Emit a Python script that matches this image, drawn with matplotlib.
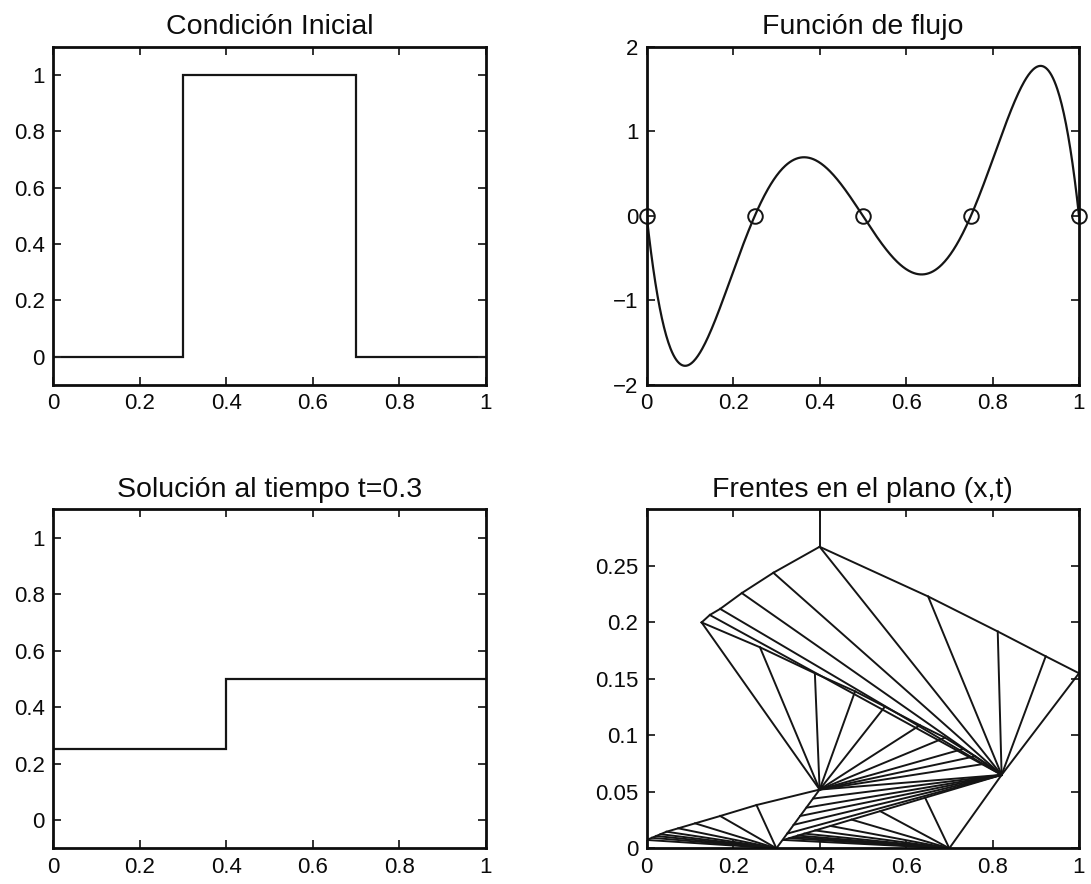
import numpy as np
import matplotlib
matplotlib.use("Agg")
import matplotlib.pyplot as plt
from matplotlib.ticker import FuncFormatter

plt.rcParams['font.family'] = ['Liberation Sans', 'DejaVu Sans']

# Initial condition (piecewise constant)
ic_edges = [0.0, 0.3, 0.7, 1.0]
ic_values = [0.0, 1.0, 0.0]

# Flux function, given by its zeros and a scale factor
flux_zeros = [0.0, 0.25, 0.5, 0.75, 1.0]
flux_scale = -500.0

# Solution at t = 0.3
sol_edges = [0.0, 0.4, 1.0]
sol_values = [0.25, 0.5]

# Fronts in the (x,t) plane
origin_left = (0.3, 0.0)
origin_right = (0.7, 0.0)
meet_low = (0.4, 0.052)
meet_high = (0.821, 0.065)

shock_left = [(0.0, 0.0074), (0.012, 0.0093), (0.022, 0.0109), (0.032, 0.0125),
              (0.046, 0.0147), (0.073, 0.0177), (0.112, 0.0221), (0.170, 0.0286),
              (0.254, 0.0383), (0.4, 0.052)]
shock_mid = [(0.316, 0.0074), (0.33, 0.0090), (0.34, 0.0101), (0.35, 0.0113),
             (0.365, 0.0130), (0.39, 0.0158), (0.425, 0.0198), (0.474, 0.0254),
             (0.540, 0.0329), (0.644, 0.0448), (0.821, 0.065)]
shock_rise_left = [(0.3, 0.0), (0.4, 0.052)]
shock_rise_right = [(0.7, 0.0), (0.821, 0.065)]
shock_long = [(0.127, 0.2), (0.262, 0.178), (0.389, 0.155), (0.482, 0.139),
              (0.551, 0.1254), (0.632, 0.109), (0.69, 0.098), (0.732, 0.088),
              (0.76, 0.0815), (0.785, 0.075), (0.821, 0.065)]
shock_upper_left = [(0.127, 0.2), (0.146, 0.2066), (0.17, 0.212), (0.22, 0.226),
                    (0.293, 0.244), (0.4, 0.267)]
shock_upper_right = [(0.4, 0.267), (0.651, 0.223), (0.812, 0.192), (0.923, 0.170),
                     (1.0, 0.155)]
shock_top = [(0.4, 0.267), (0.4, 0.3)]

feeders_mid = [(0.385, 0.044), (0.37, 0.036), (0.355, 0.0286), (0.34, 0.0208),
               (0.325, 0.013)]

LINE = '#151515'


def fmt(v, _pos=None):
    s = f"{v:g}"
    return s.replace('-', '\u2212')


def style(ax, xticks, yticks, xlim, ylim, title):
    ax.set_xlim(*xlim)
    ax.set_ylim(*ylim)
    ax.set_xticks(xticks)
    ax.set_yticks(yticks)
    ax.xaxis.set_major_formatter(FuncFormatter(fmt))
    ax.yaxis.set_major_formatter(FuncFormatter(fmt))
    ax.tick_params(direction='in', length=5.5, width=1.3, labelsize=16,
                   top=True, right=True, color='#222222', labelcolor='#0a0a0a')
    ax.tick_params(axis='x', pad=6)
    ax.tick_params(axis='y', pad=6)
    for sp in ax.spines.values():
        sp.set_linewidth(2.0)
        sp.set_color('#0d0d0d')
    ax.set_title(title, fontsize=20.5, pad=9, color='#0d0d0d')


fig = plt.figure(figsize=(10.91, 8.84), dpi=100)
W, H = 1091.0, 884.0
colx = [53.3, 646.7]
aw = 432.3
rows = [(46.7, 385.0), (509.5, 848.3)]


def make_ax(c, r):
    top, bot = rows[r]
    return fig.add_axes([colx[c] / W, 1 - bot / H, aw / W, (bot - top) / H])


# Initial condition
ax1 = make_ax(0, 0)
ax1.stairs(ic_values, ic_edges, baseline=None, color=LINE, lw=1.6)
style(ax1, np.arange(0, 1.01, 0.2), np.arange(0, 1.01, 0.2), (0, 1), (-0.1, 1.1),
      'Condición Inicial')

# Flux function
ax2 = make_ax(1, 0)
u = np.linspace(0, 1, 600)
fu = flux_scale * np.prod([u - z for z in flux_zeros], axis=0)
ax2.plot(u, fu, color=LINE, lw=1.6)
ax2.plot(flux_zeros, np.zeros(len(flux_zeros)), 'o', mfc='none', mec=LINE,
         ms=10.5, mew=1.4, clip_on=False)
style(ax2, np.arange(0, 1.01, 0.2), [-2, -1, 0, 1, 2], (0, 1), (-2, 2),
      'Función de flujo')

# Solution at t = 0.3
ax3 = make_ax(0, 1)
ax3.stairs(sol_values, sol_edges, baseline=None, color=LINE, lw=1.6)
style(ax3, np.arange(0, 1.01, 0.2), np.arange(0, 1.01, 0.2), (0, 1), (-0.1, 1.1),
      'Solución al tiempo t=0.3')

# Fronts in the (x,t) plane
ax4 = make_ax(1, 1)
lw = 1.4


def poly(pts):
    xs, ts = zip(*pts)
    ax4.plot(xs, ts, color=LINE, lw=lw, solid_joinstyle='round')


def fan(origin, ends):
    for e in ends:
        ax4.plot([origin[0], e[0]], [origin[1], e[1]], color=LINE, lw=lw)


for s in (shock_left, shock_mid, shock_rise_left, shock_rise_right, shock_long,
          shock_upper_left, shock_upper_right, shock_top):
    poly(s)

fan(origin_left, shock_left[:-1])
fan(origin_right, shock_mid[:-1])
fan(meet_low, shock_long)
fan(meet_high, shock_upper_left[1:] + shock_upper_right[1:])
for p in feeders_mid:
    fan(p, [meet_high])

style(ax4, np.arange(0, 1.01, 0.2), [0, 0.05, 0.1, 0.15, 0.2, 0.25], (0, 1),
      (0, 0.3), 'Frentes en el plano (x,t)')

fig.savefig('out.png', dpi=100)
